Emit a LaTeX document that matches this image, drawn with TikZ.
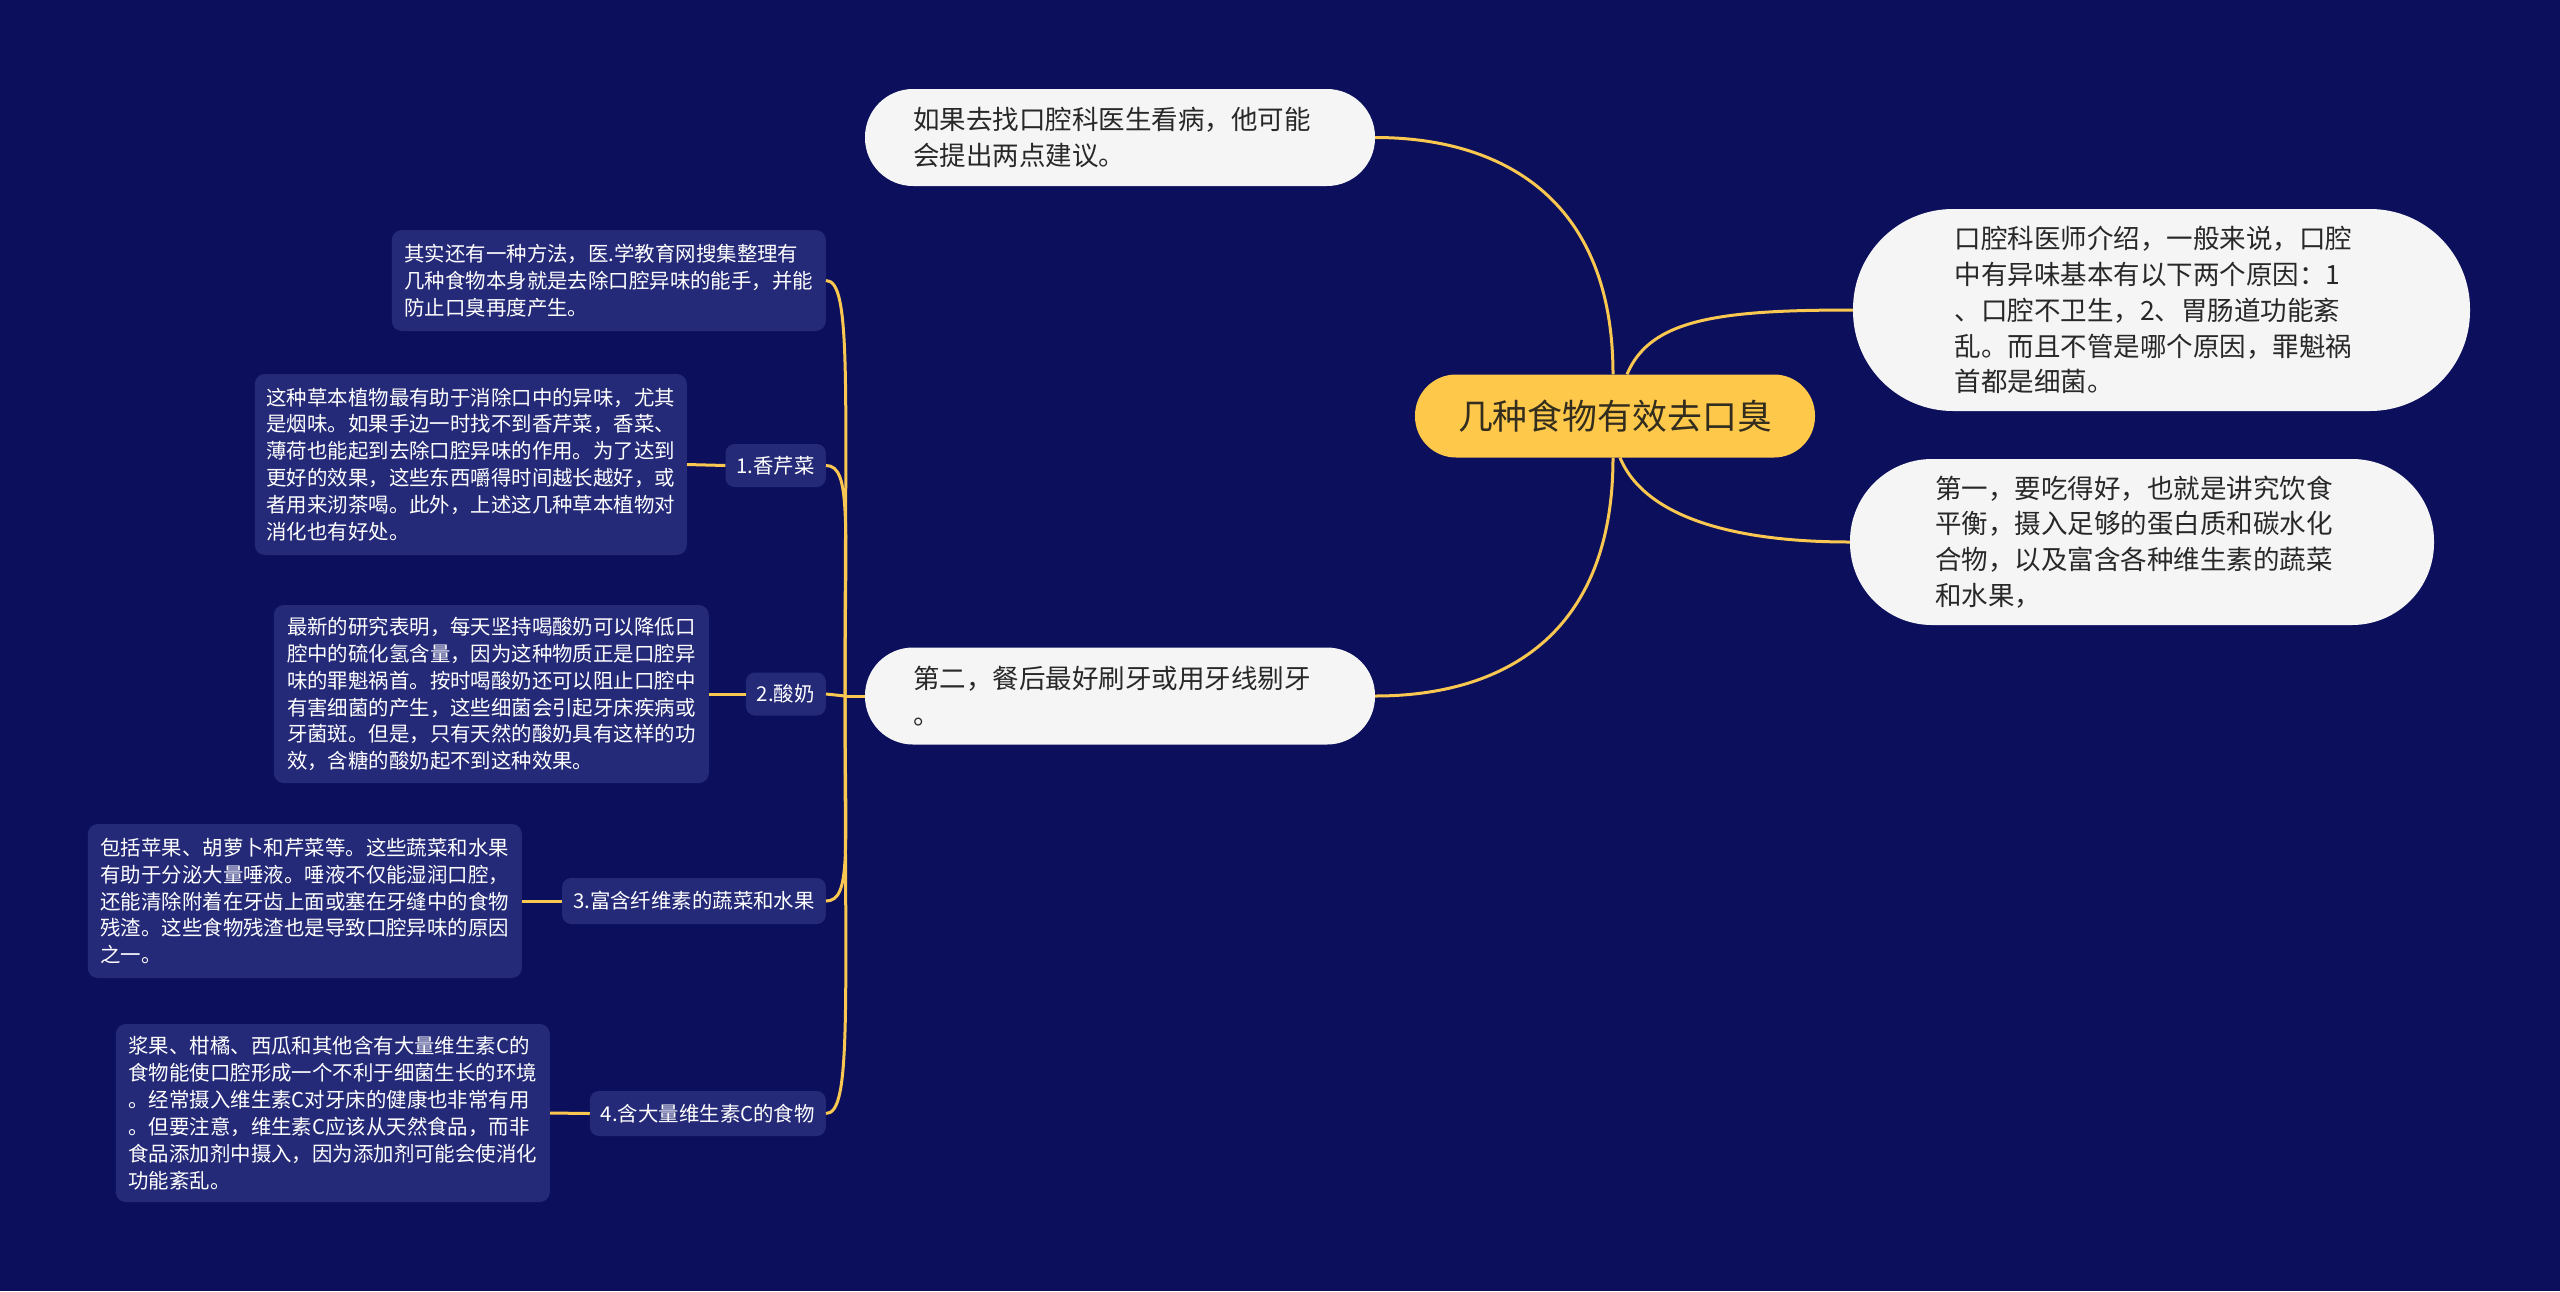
\documentclass[tikz,border=0pt]{standalone}
\usepackage{fontspec}
\setmainfont{Noto Sans CJK SC}
\usetikzlibrary{calc}
\definecolor{bgc}{RGB}{11,15,92}
\definecolor{boxc}{RGB}{37,42,120}
\definecolor{linec}{RGB}{250,200,80}
\definecolor{rootc}{RGB}{254,200,74}
\definecolor{pillc}{RGB}{245,245,245}
\definecolor{darktext}{RGB}{40,40,40}
\definecolor{roottext}{RGB}{50,45,30}
\tikzset{
  conn/.style={draw=linec, line width=3bp},
  detail/.style={fill=boxc, rounded corners=10bp, align=left, text=white,
    font=\fontsize{20.5}{27}\selectfont, inner xsep=0bp, inner ysep=0bp, anchor=east},
  lbl/.style={fill=boxc, rounded corners=9bp, text=white,
    font=\fontsize{20.5}{27}\selectfont, inner xsep=11bp, inner ysep=0bp, anchor=east},
  pill/.style={fill=pillc, align=left, text=darktext, text width=414bp,
    font=\fontsize{26.6}{36}\selectfont, inner sep=0bp},
  rootbox/.style={fill=rootc, text=roottext, font=\fontsize{35}{40}\selectfont,
    inner sep=0bp, minimum width=400bp, minimum height=83bp, rounded corners=41bp}
}
\begin{document}
\begin{tikzpicture}[x=1bp, y=-1bp]
\fill[bgc] (0,0) rectangle (2560,1291);
\useasboundingbox (0,0) rectangle (2560,1291);

% root
\node[rootbox] (root) at (1615,416) {几种食物有效去口臭};

% pills
\node[pill, minimum width=510bp, minimum height=97bp, rounded corners=48bp] (t1) at (1120,137.5)
  {如果去找口腔科医生看病，他可能\\会提出两点建议。};
\node[pill, minimum width=510bp, minimum height=97bp, rounded corners=48bp] (t2) at (1120,696)
  {第二，餐后最好刷牙或用牙线剔牙\\。};
\node[pill, minimum width=617bp, minimum height=202bp, rounded corners=100bp] (r1) at (2161.5,310)
  {口腔科医师介绍，一般来说，口腔\\中有异味基本有以下两个原因：1\\、口腔不卫生，2、胃肠道功能紊\\乱。而且不管是哪个原因，罪魁祸\\首都是细菌。};
\node[pill, minimum width=584bp, minimum height=166bp, rounded corners=82bp] (r2) at (2142,542)
  {第一，要吃得好，也就是讲究饮食\\平衡，摄入足够的蛋白质和碳水化\\合物，以及富含各种维生素的蔬菜\\和水果，};

% labels
\node[lbl, minimum height=43bp] (l1) at (826,465.5) {1.香芹菜};
\node[lbl, minimum height=43bp] (l2) at (826,694) {2.酸奶};
\node[lbl, minimum height=46bp] (l3) at (826,901) {3.富含纤维素的蔬菜和水果};
\node[lbl, minimum height=45bp] (l4) at (826,1113.5) {4.含大量维生素C的食物};

% detail boxes
\node[detail, minimum width=434bp, minimum height=101bp] (da) at (826,280.5)
  {其实还有一种方法，医.学教育网搜集整理有\\几种食物本身就是去除口腔异味的能手，并能\\防止口臭再度产生。};
\node[detail, minimum width=432bp, minimum height=181bp] (db) at (687,464.5)
  {这种草本植物最有助于消除口中的异味，尤其\\是烟味。如果手边一时找不到香芹菜，香菜、\\薄荷也能起到去除口腔异味的作用。为了达到\\更好的效果，这些东西嚼得时间越长越好，或\\者用来沏茶喝。此外，上述这几种草本植物对\\消化也有好处。};
\node[detail, minimum width=435bp, minimum height=178bp] (dc) at (709,694)
  {最新的研究表明，每天坚持喝酸奶可以降低口\\腔中的硫化氢含量，因为这种物质正是口腔异\\味的罪魁祸首。按时喝酸奶还可以阻止口腔中\\有害细菌的产生，这些细菌会引起牙床疾病或\\牙菌斑。但是，只有天然的酸奶具有这样的功\\效，含糖的酸奶起不到这种效果。};
\node[detail, minimum width=434bp, minimum height=154bp] (dd) at (522,901)
  {包括苹果、胡萝卜和芹菜等。这些蔬菜和水果\\有助于分泌大量唾液。唾液不仅能湿润口腔，\\还能清除附着在牙齿上面或塞在牙缝中的食物\\残渣。这些食物残渣也是导致口腔异味的原因\\之一。};
\node[detail, minimum width=434bp, minimum height=178bp] (de) at (550,1113)
  {浆果、柑橘、西瓜和其他含有大量维生素C的\\食物能使口腔形成一个不利于细菌生长的环境\\。经常摄入维生素C对牙床的健康也非常有用\\。但要注意，维生素C应该从天然食品，而非\\食品添加剂中摄入，因为添加剂可能会使消化\\功能紊乱。};

% right-side connectors
\draw[conn] ($(root.north)+(-2,0)$) .. controls +(0,-177) and +(125,0) .. (t1.east);
\draw[conn] ($(root.north)+(12,0)$) .. controls +(23,-55) and +(-135,0) .. (r1.west);
\draw[conn] ($(root.south)+(5,0)$) .. controls +(25,60) and +(-115,0) .. (r2.west);
\draw[conn] ($(root.south)+(-2,0)$) .. controls +(0,180) and +(125,0) .. (t2.east);

% left trunk
\coordinate (m) at (845,696);
\draw[conn] (t2.west) -- (m);
\draw[conn] (m) .. controls (845,384.5) and (852,280.5) .. (da.east);
\draw[conn] (m) .. controls (845,523) and (852,465.5) .. (l1.east);
\draw[conn] (m) -- (l2.east);
\draw[conn] (m) .. controls (845,850) and (852,901) .. (l3.east);
\draw[conn] (m) .. controls (845,1009) and (852,1113.5) .. (l4.east);

% label to detail
\draw[conn] (l1.west) -- (db.east);
\draw[conn] (l2.west) -- (dc.east);
\draw[conn] (l3.west) -- (dd.east);
\draw[conn] (l4.west) -- (de.east);
\end{tikzpicture}
\end{document}
